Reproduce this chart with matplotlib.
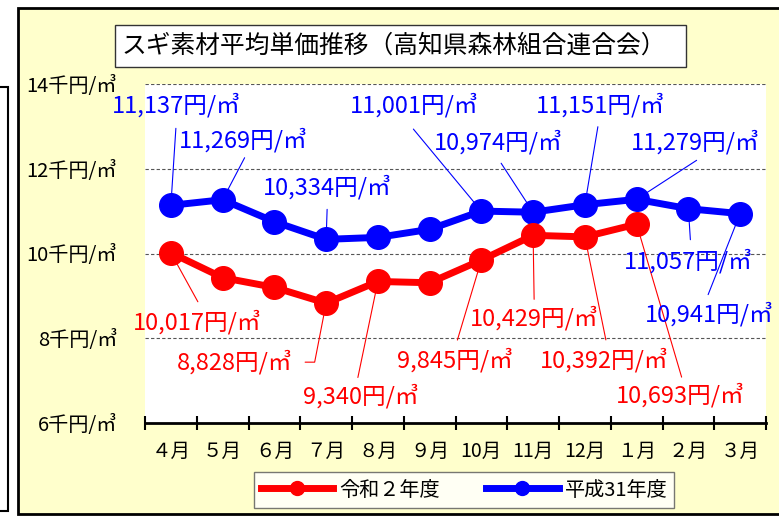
import matplotlib.pyplot as plt
from matplotlib.patches import Rectangle
from matplotlib.lines import Line2D

plt.rcParams['font.family'] = ['Noto Sans CJK JP', 'DejaVu Sans']

# 月（年度は4月始まり）
months = ['４月', '５月', '６月', '７月', '８月', '９月',
          '10月', '11月', '12月', '１月', '２月', '３月']
# 単価（円/㎥）
r2 = [10017, 9430, 9200, 8828, 9340, 9310, 9845, 10429, 10392, 10693]
h31 = [11137, 11269, 10750, 10334, 10380, 10570, 11001, 10974, 11151, 11279, 11057, 10941]
yticks = [6, 8, 10, 12, 14]

# ラベル位置（点からのずれ, ピクセル）: 月番号 -> (文字の位置, 引き出し線の端)
h31_lab = {0: ((5, 100), (5, 77)), 1: ((21, 60), (22, 42)), 3: ((1, 52), (1, 30)),
           6: ((-67, 106), (-68, 82)), 7: ((-35, 70), (-32, 49)), 8: ((15, 100), (13, 78)),
           9: ((59, 57), (60, 39)), 10: ((0, -52), (2, -31)), 11: ((-31, -101), (-32, -81))}
r2_lab = {0: ((26, -69), (27, -49)), 3: ((-91, -59), (-21, -59)), 4: ((-17, -115), (-20, -96)),
          6: ((-26, -100), (-24, -80)), 7: ((1, -83), (1, -64)), 8: ((19, -123), (21, -103)),
          9: ((44, -171), (45, -153))}

W, H = 779, 517
fig = plt.figure(figsize=(W / 100, H / 100), dpi=100)
fig.patch.set_facecolor('white')

# 外枠
fig.patches.append(Rectangle((18 / W, 1 - 514 / H), 800 / W, 506 / H, transform=fig.transFigure,
                             facecolor='#FFFFCC', edgecolor='black', lw=2, zorder=-2))
fig.patches.append(Rectangle((-10 / W, 1 - 511 / H), 18 / W, 424 / H, transform=fig.transFigure,
                             facecolor='white', edgecolor='black', lw=1.5, zorder=-2))

ax = fig.add_axes([145 / W, 1 - 423 / H, 621 / W, 339 / H])
ax.set_facecolor('white')
ax.set_xlim(0, 12)
ax.set_ylim(6, 14)

for s in ['top', 'right', 'left']:
    ax.spines[s].set_visible(False)
ax.spines['bottom'].set_linewidth(2)

ax.set_yticks(yticks)
ax.set_yticklabels([f'{v}千円/㎥' for v in yticks], fontsize=14.5)
ax.tick_params(axis='y', length=0, pad=20)
for v in yticks[1:]:
    ax.axhline(v, color='#555555', lw=0.8, ls=(0, (3, 2)), zorder=1)

ax.set_xticks(range(13))
ax.set_xticklabels([])
ax.set_xticks([i + 0.5 for i in range(12)], minor=True)
ax.set_xticklabels(months, minor=True, fontsize=14)
ax.tick_params(axis='x', which='major', direction='inout', length=10, width=1.5)
ax.tick_params(axis='x', which='minor', length=0, pad=13)

xr = [i + 0.5 for i in range(len(r2))]
xh = [i + 0.5 for i in range(len(h31))]
ax.plot(xh, [v / 1000 for v in h31], color='#0000FF', lw=5, marker='o', ms=17,
        zorder=4, label='平成31年度')
ax.plot(xr, [v / 1000 for v in r2], color='#FF0000', lw=5, marker='o', ms=17,
        zorder=4, label='令和２年度')


def put_labels(vals, labs, color):
    for i, (txt, lead) in labs.items():
        pt = (i + 0.5, vals[i] / 1000)
        ax.annotate(f'{vals[i]:,}円/㎥', xy=pt, xytext=txt, textcoords='offset pixels',
                    ha='center', va='center', color=color, fontsize=17, zorder=5)
        style = 'arc3'
        if color == '#FF0000' and i == 3:
            style = 'angle,angleA=0,angleB=79,rad=0'
        ax.annotate('', xy=pt, xytext=lead, textcoords='offset pixels',
                    arrowprops=dict(arrowstyle='-', color=color, lw=0.8,
                                    shrinkA=0, shrinkB=0, connectionstyle=style),
                    zorder=2)


put_labels(h31, h31_lab, '#0000FF')
put_labels(r2, r2_lab, '#FF0000')

# タイトル
fig.patches.append(Rectangle((115 / W, 1 - 67 / H), 571 / W, 42 / H, transform=fig.transFigure,
                             facecolor='white', edgecolor='#333333', lw=1, zorder=1))
fig.text(122 / W, 1 - 46 / H, 'スギ素材平均単価推移（高知県森林組合連合会）',
         fontsize=17.8, ha='left', va='center', zorder=2)

handles = [Line2D([], [], color='#FF0000', lw=5, marker='o', ms=10),
           Line2D([], [], color='#0000FF', lw=5, marker='o', ms=10)]
leg = ax.legend(handles, ['令和２年度', '平成31年度'], ncol=2, loc='center',
                bbox_to_anchor=(464 / W, 1 - 490 / H), bbox_transform=fig.transFigure,
                fontsize=14.5, frameon=True, fancybox=False, handlelength=3.6,
                handletextpad=0.3, columnspacing=2.3, borderpad=0.35)
leg.get_frame().set_edgecolor('#555555')
leg.get_frame().set_linewidth(1)

fig.savefig('out.png', dpi=100)
